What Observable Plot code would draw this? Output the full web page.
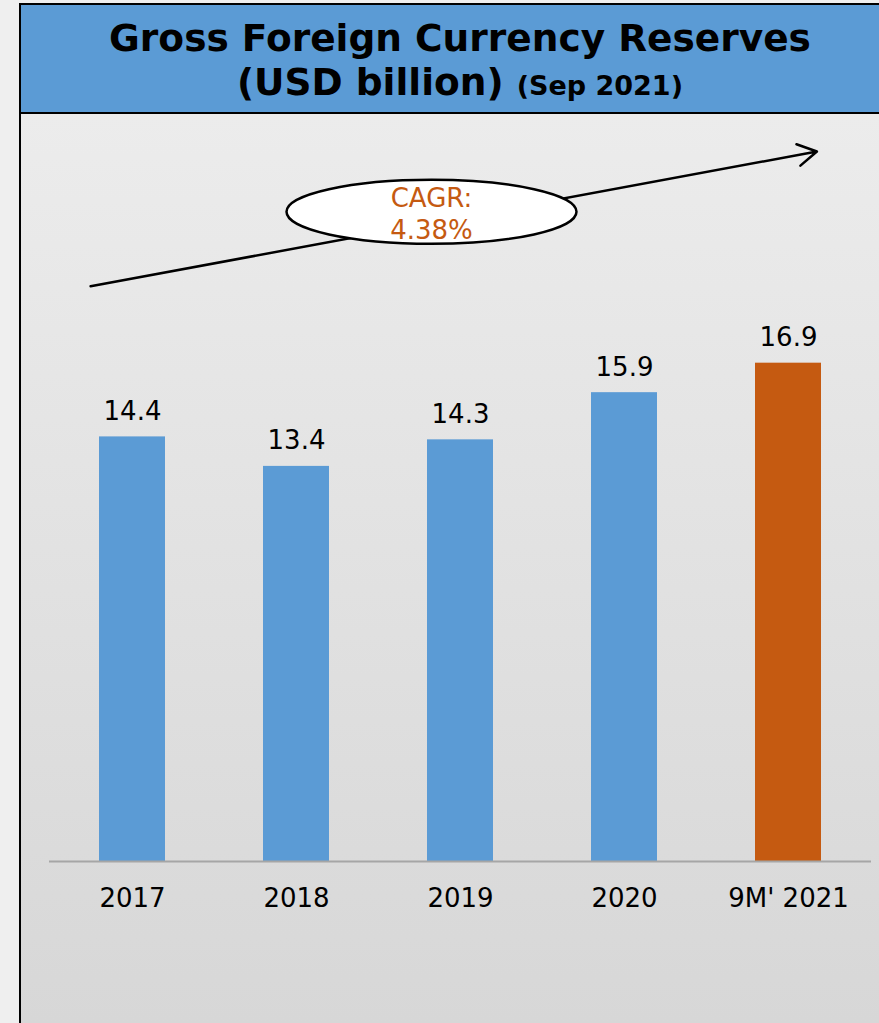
<!DOCTYPE html>
<html>
<head>
<meta charset="utf-8">
<script src="https://cdn.jsdelivr.net/npm/d3@7"></script>
<script src="https://cdn.jsdelivr.net/npm/@observablehq/plot@0.6"></script>
<style>
  html, body { margin: 0; padding: 0; background: #efefef; }
  #page { position: relative; width: 879px; height: 1023px; overflow: hidden; background: #efefef;
          font-family: "DejaVu Sans", Verdana, sans-serif; }
  #panel { position: absolute; left: 19px; top: 3px; width: 858px; height: 1020px; border-left: 2px solid #000; }
  #title { box-sizing: border-box; height: 111px; background: #5B9BD5; border-top: 2px solid #000;
           border-bottom: 2px solid #000; text-align: center; font-weight: bold; color: #000;
           padding-top: 11px; padding-left: 20px; font-size: 37.5px; line-height: 44px; white-space: nowrap; }
  #title .small { font-size: 27px; }
  #chart svg { display: block; }
</style>
</head>
<body>
<div id="page">
  <div id="panel">
    <div id="title">Gross Foreign Currency Reserves<br>(USD billion) <span class="small">(Sep 2021)</span></div>
    <div id="chart"></div>
  </div>
</div>
<script>
// ---- data ----
const categories = ["2017", "2018", "2019", "2020", "9M' 2021"];
const values = [14.4, 13.4, 14.3, 15.9, 16.9];
const barColors = ["#5B9BD5", "#5B9BD5", "#5B9BD5", "#5B9BD5", "#C55A11"];
const cagrText = "CAGR:\n4.38%";
const trendStart = 19.77;  // y value of the trend arrow at first category
const trendEnd = 23.9;     // y value of the trend arrow at last category
const cagrLabelY = 22;
const cagrLabelCategory = "2019";

const rows = categories.map((c, i) => ({category: c, value: values[i], color: barColors[i]}));

const chart = Plot.plot({
  width: 858,
  height: 909,
  marginLeft: 28,
  marginRight: 8,
  marginTop: 1,
  marginBottom: 162,
  style: {
    fontFamily: "'DejaVu Sans', Verdana, sans-serif",
    fontSize: "26px",
    color: "#000",
    background: "linear-gradient(to bottom, #ececec 0%, #d7d7d7 100%)",
    overflow: "visible"
  },
  x: {domain: categories, paddingInner: 0.6, paddingOuter: 0.3, label: null},
  y: {domain: [0, 25.3], axis: null},
  marks: [
    Plot.barY(rows, {x: "category", y: "value", fill: "color"}),
    Plot.ruleY([0], {stroke: "#a6a6a6", strokeWidth: 2}),
    Plot.text(rows, {x: "category", y: "value", text: d => d.value.toFixed(1), dy: -17,
      lineAnchor: "bottom", fontSize: 26, fill: "#000"}),
    Plot.axisX({tickSize: 0, tickPadding: 27, fontSize: 26, fill: "#000"}),
    Plot.arrow([{}], {
      x1: () => categories[0], x2: () => categories[categories.length - 1],
      y1: () => trendStart, y2: () => trendEnd,
      insetStart: -42.6, insetEnd: -28.9,
      stroke: "#000", strokeWidth: 2.5, headLength: 13, headAngle: 60
    }),
    Plot.text([cagrText], {
      x: () => cagrLabelCategory, y: () => cagrLabelY, text: d => d, dx: -29,
      fontSize: 26, lineHeight: 1.23, fill: "#C55A11", textAnchor: "middle",
      render(index, scales, values, dimensions, context, next) {
        const g = next(index, scales, values, dimensions, context);
        const ns = "http://www.w3.org/2000/svg";
        const e = document.createElementNS(ns, "ellipse");
        const cx = values.x ? values.x[0] : 0;
        const cy = values.y ? values.y[0] : 0;
        e.setAttribute("cx", cx);
        e.setAttribute("cy", cy - 1);
        e.setAttribute("rx", 145);
        e.setAttribute("ry", 32);
        e.setAttribute("fill", "#fff");
        e.setAttribute("stroke", "#000");
        e.setAttribute("stroke-width", 2.5);
        g.insertBefore(e, g.firstChild);
        return g;
      }
    })
  ]
});
document.getElementById("chart").appendChild(chart);
</script>
</body>
</html>
